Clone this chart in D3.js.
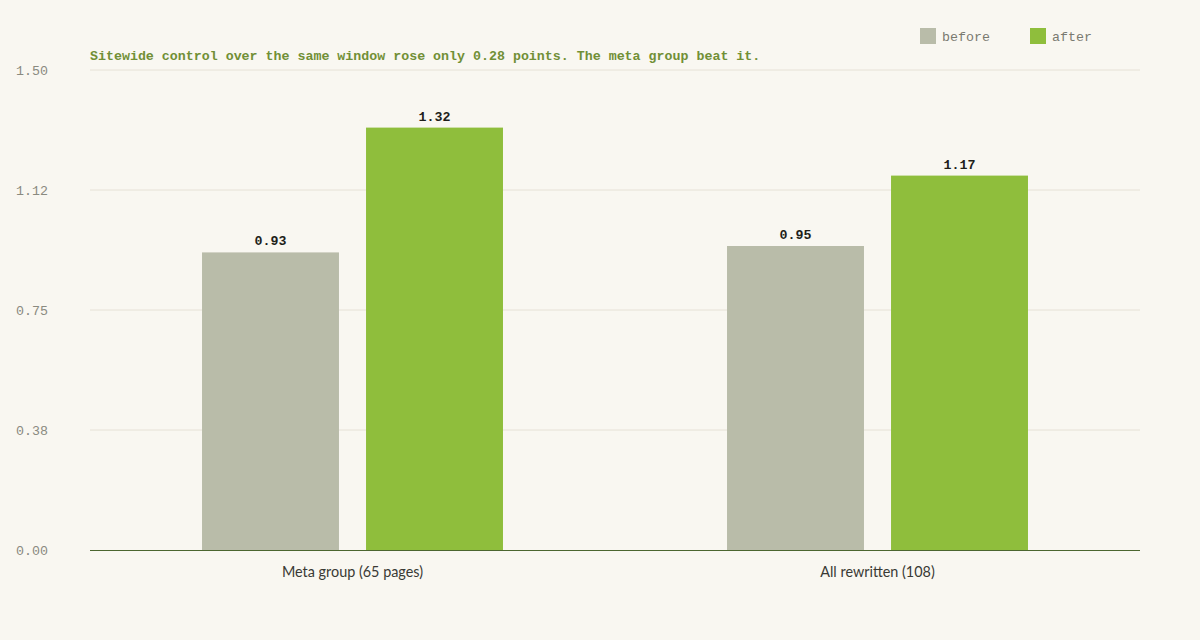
<!DOCTYPE html>
<html>
<head>
<meta charset="utf-8">
<script src="https://cdn.jsdelivr.net/npm/d3@7"></script>
<style>
  body { margin: 0; background: #f9f7f1; }
</style>
</head>
<body>
<div id="chart"></div>
<script>
// chart values
const groups = ["Meta group (65 pages)", "All rewritten (108)"];
const seriesNames = ["before", "after"];
const beforeValues = [0.93, 0.95];
const afterValues = [1.32, 1.17];
const yTicks = [0, 0.375, 0.75, 1.125, 1.5];
const yTickLabels = ["0.00", "0.38", "0.75", "1.12", "1.50"];
const subtitle = "Sitewide control over the same window rose only 0.28 points. The meta group beat it.";

const W = 1200, H = 640;
const margin = { top: 70, right: 60, bottom: 90, left: 90 };
const colors = { before: "#b9bca9", after: "#8fbe3c" };
const mono = "'Liberation Mono', 'DejaVu Sans Mono', monospace";

const svg = d3.select("#chart").append("svg")
  .attr("width", W)
  .attr("height", H)
  .style("background", "#f9f7f1");

const x0 = d3.scaleBand()
  .domain(groups)
  .range([margin.left, W - margin.right])
  .padding(0);

const x1 = d3.scaleBand()
  .domain(seriesNames)
  .range([0, x0.bandwidth()])
  .paddingInner(0.165)
  .paddingOuter(0.683);

const y = d3.scaleLinear()
  .domain([0, 1.5])
  .range([H - margin.bottom, margin.top]);

// gridlines
svg.append("g")
  .selectAll("line")
  .data(yTicks.filter(d => d > 0))
  .enter()
  .append("line")
  .attr("x1", margin.left)
  .attr("x2", W - margin.right)
  .attr("y1", d => y(d))
  .attr("y2", d => y(d))
  .attr("stroke", "#e6e1d6")
  .attr("stroke-width", 1);

// y tick labels
svg.append("g")
  .selectAll("text")
  .data(yTicks)
  .enter()
  .append("text")
  .attr("x", 48)
  .attr("y", d => y(d) + 5)
  .attr("text-anchor", "end")
  .attr("font-family", mono)
  .attr("font-size", 13.3)
  .attr("fill", "#8a8a80")
  .text((d, i) => yTickLabels[i]);

// bars
const rows = groups.map((g, i) => ({ group: g, before: beforeValues[i], after: afterValues[i] }));

const gGroups = svg.append("g")
  .selectAll("g")
  .data(rows)
  .enter()
  .append("g")
  .attr("transform", d => `translate(${x0(d.group)},0)`);

gGroups.selectAll("rect")
  .data(d => seriesNames.map(k => ({ key: k, value: d[k] })))
  .enter()
  .append("rect")
  .attr("x", d => x1(d.key))
  .attr("y", d => y(d.value))
  .attr("width", x1.bandwidth())
  .attr("height", d => y(0) - y(d.value))
  .attr("fill", d => colors[d.key]);

gGroups.selectAll("text.val")
  .data(d => seriesNames.map(k => ({ key: k, value: d[k] })))
  .enter()
  .append("text")
  .attr("class", "val")
  .attr("x", d => x1(d.key) + x1.bandwidth() / 2)
  .attr("y", d => y(d.value) - 7)
  .attr("text-anchor", "middle")
  .attr("font-family", mono)
  .attr("font-size", 13.3)
  .attr("font-weight", "bold")
  .attr("fill", "#1f1f1a")
  .text(d => d.value.toFixed(2));

// baseline
svg.append("line")
  .attr("x1", margin.left)
  .attr("x2", W - margin.right)
  .attr("y1", y(0) + 0.5)
  .attr("y2", y(0) + 0.5)
  .attr("stroke", "#4c6630")
  .attr("stroke-width", 1);

// category labels
svg.append("g")
  .selectAll("text")
  .data(groups)
  .enter()
  .append("text")
  .attr("x", d => x0(d) + x0.bandwidth() / 2)
  .attr("y", 577)
  .attr("text-anchor", "middle")
  .attr("font-family", "Lato, 'Open Sans', sans-serif")
  .attr("font-size", 14.4)
  .attr("fill", "#3a3a35")
  .text(d => d);

// subtitle
svg.append("text")
  .attr("x", margin.left)
  .attr("y", 60)
  .attr("font-family", mono)
  .attr("font-size", 13.3)
  .attr("font-weight", "bold")
  .attr("fill", "#718f36")
  .text(subtitle);

// legend
const legend = svg.append("g")
  .selectAll("g")
  .data(seriesNames)
  .enter()
  .append("g")
  .attr("transform", (d, i) => `translate(${920 + i * 110},28)`);

legend.append("rect")
  .attr("width", 16)
  .attr("height", 16)
  .attr("fill", d => colors[d]);

legend.append("text")
  .attr("x", 22)
  .attr("y", 13)
  .attr("font-family", mono)
  .attr("font-size", 13.3)
  .attr("fill", "#7a7a70")
  .text(d => d);
</script>
</body>
</html>
